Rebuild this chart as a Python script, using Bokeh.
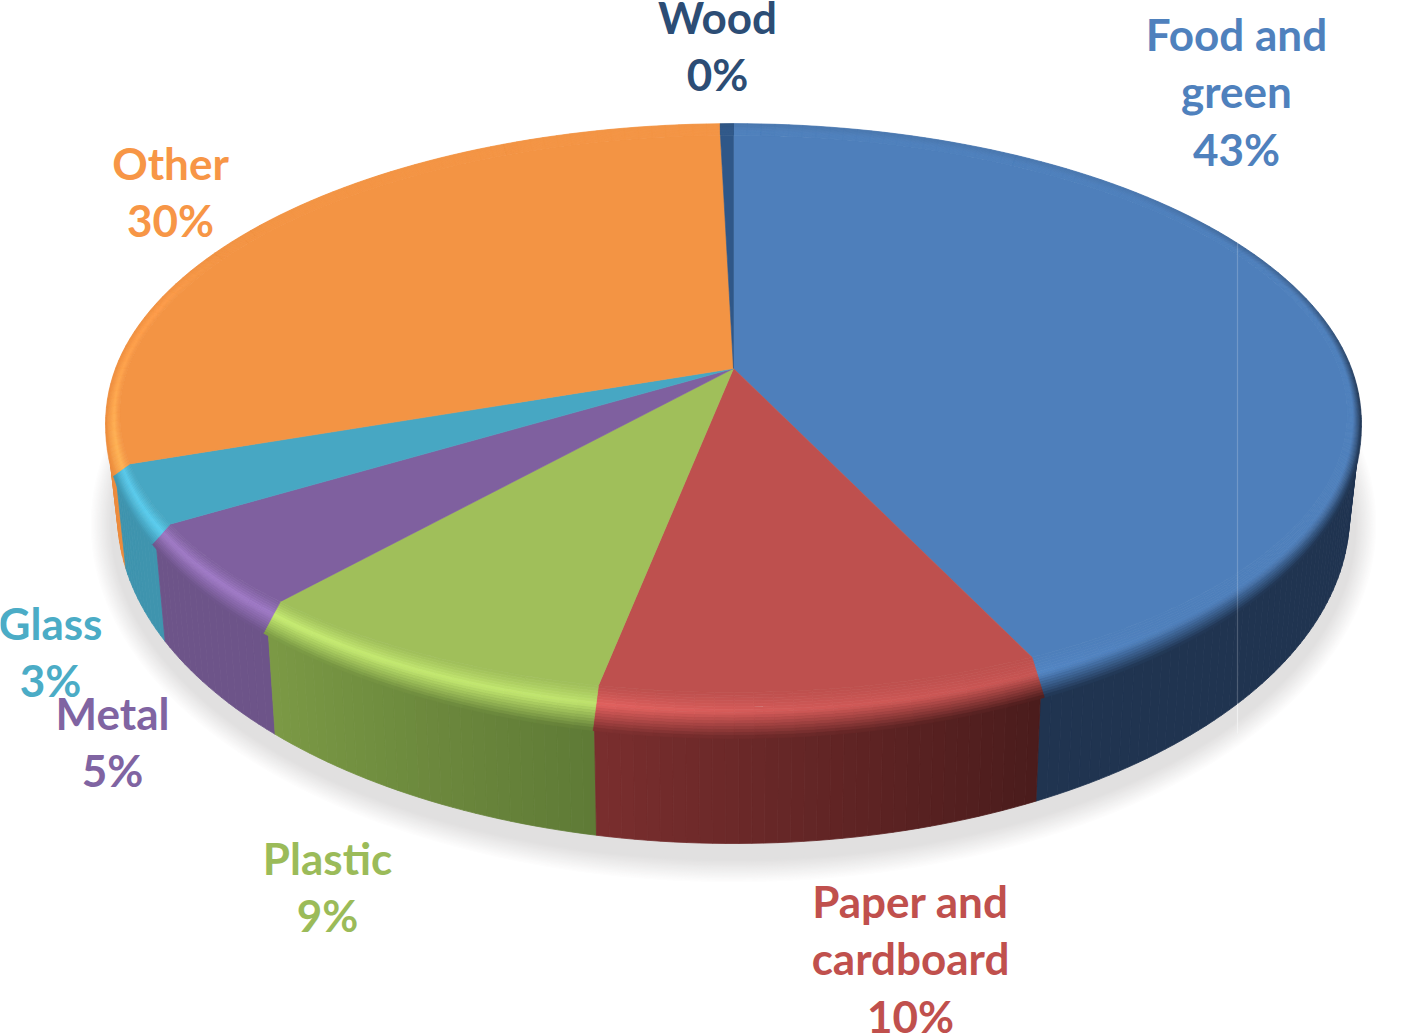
import numpy as np
from bokeh.plotting import figure
from bokeh.models import Range1d, ColumnDataSource
from bokeh.core.properties import value
from bokeh.embed import file_html
from bokeh.resources import INLINE

# ---- data ----
categories = ["Food and\ngreen", "Paper and\ncardboard", "Plastic", "Metal", "Glass", "Other", "Wood"]
label_percent = [43, 10, 9, 5, 3, 30, 0]
drawn_share = [43.1, 9.9, 8.4, 4.8, 3.4, 30.0, 0.4]

# ---- style ----
top_colors = ["#4E7FBB", "#BE504E", "#A0BF5A", "#7F609F", "#47A7C3", "#F39444", "#2F5788"]
wall_from = ["#203450", "#4A1C1C", "#5F7A36", "#6D5489", "#3F94AE", "#EC8C3D", "#203450"]  # clockwise start
wall_to = ["#203450", "#7A2E2E", "#7B9A45", "#6D5489", "#3F94AE", "#EC8C3D", "#203450"]    # clockwise end
label_colors = ["#4F81BD", "#C0504D", "#9BBB59", "#8064A2", "#4BACC6", "#F79646", "#2C4D75"]
label_x = [1236, 910, 327, 112, 50, 170, 717]
label_y = [33, 900, 857, 712, 622, 162, 16]
LINE = 57.5
FONT = "44px"

# ---- geometry of the view ----
CX, CY, RX, AY, K = 733.0, 368.0, 618.0, 287.0, 0.172
BOT_CY, BOT_A, BOT_B, BOT_XS = 514.0, 616.0, 329.0, 0.983


def project(X, Y):
    w = 1 + K * Y
    return CX + RX * X / w, CY - AY * Y / w


def hex2rgb(h):
    return np.array([int(h[i:i + 2], 16) for i in (1, 3, 5)], dtype=float)


def rgb2hex(c):
    c = np.clip(np.round(c), 0, 255).astype(int)
    return "#%02x%02x%02x" % tuple(c)


def mix(a, b, t):
    return a + (b - a) * t


def wall_bottom(xt):
    x = CX + BOT_XS * (xt - CX)
    u = np.clip((x - CX) / BOT_A, -1, 1)
    return x, BOT_CY + BOT_B * np.sqrt(1 - u ** 2)


p = figure(width=1406, height=1033, x_range=Range1d(0, 1406), y_range=Range1d(1033, 0),
           output_backend="svg", toolbar_location=None, min_border=0,
           background_fill_color="white", border_fill_color="white", outline_line_color=None)
p.axis.visible = False
p.grid.visible = False

# soft shadow under the pie, outermost first
shade_levels = np.linspace(0, 1, 24)
tt = np.linspace(0, 2 * np.pi, 240)
for s in shade_levels:
    col = rgb2hex(mix(np.array([255.0, 255, 255]), np.array([225.0, 224, 224]), min(s * 1.3, 1.0)))
    p.patch(CX + (BOT_A + 28 * (1 - s)) * np.cos(tt),
            BOT_CY + 10 + (BOT_B + 30 * (1 - s)) * np.sin(tt),
            fill_color=col, line_color=None)

# slice boundaries, clockwise from the top of the disc
shares = np.array(drawn_share, dtype=float)
edges = np.concatenate([[0], np.cumsum(shares)]) / shares.sum() * 360.0

# walls
wx, wy, wc, wo = [], [], [], []
STEP = 1.0
for i, (a0, a1) in enumerate(zip(edges[:-1], edges[1:])):
    n = max(int((a1 - a0) / STEP), 1)
    th = np.linspace(a0, a1, n + 1)
    for j in range(n):
        X0, Y0 = np.sin(np.radians(th[j])), np.cos(np.radians(th[j]))
        X1, Y1 = np.sin(np.radians(th[j + 1])), np.cos(np.radians(th[j + 1]))
        if min(Y0, Y1) > -K:
            continue
        x0, y0 = project(X0, Y0)
        x1, y1 = project(X1, Y1)
        bx0, by0 = wall_bottom(x0)
        bx1, by1 = wall_bottom(x1)
        t = (j + 0.5) / n
        c = rgb2hex(mix(hex2rgb(wall_from[i]), hex2rgb(wall_to[i]), t))
        wx.append([x0, x1, bx1, bx0])
        wy.append([y0, y1, by1, by0])
        wc.append(c)
        wo.append((Y0 + Y1) / 2)
order = np.argsort(np.array(wo))[::-1]
p.patches([wx[k] for k in order], [wy[k] for k in order],
          fill_color=[wc[k] for k in order], line_color=[wc[k] for k in order], line_width=0.8)

# flat top of every slice, out to where the rounded edge begins
INSET_X, INSET_Y, EXT_Y = 0.02, 0.055, 0.055
for i, (a0, a1) in enumerate(zip(edges[:-1], edges[1:])):
    th = np.radians(np.linspace(a0, a1, max(int(a1 - a0), 2) * 2 + 1))
    X = np.sin(th) * (1 - INSET_X)
    Y = np.cos(th) * (1 - INSET_Y)
    xs, ys = project(X, Y)
    p.patch(np.r_[CX, xs], np.r_[CY, ys], fill_color=top_colors[i], line_color=top_colors[i], line_width=0.6)


def band_point(t, r):
    Yc = np.cos(t)
    out = 1.0 + (EXT_Y if Yc < 0 else 0.0) * min(1.0, -Yc / 0.3 if Yc < 0 else 0.0)
    sy = mix(1 - INSET_Y, out, r)
    sx = mix(1 - INSET_X, 1.0, r)
    return project(np.sin(t) * sx, Yc * sy)


# rounded edge: thin strips whose colour goes flat -> highlight -> wall
light_th = [0, 140, 175, 195, 230, 255, 272, 295, 360]
light_v = [0, 0, 0.22, 0.42, 0.5, 0.4, 0.18, 0, 0]
RINGS = np.linspace(0, 1, 17)
bx, by, bc = [], [], []
for i, (a0, a1) in enumerate(zip(edges[:-1], edges[1:])):
    n = max(int((a1 - a0) / 1.5), 1)
    th = np.linspace(a0, a1, n + 1)
    base = hex2rgb(top_colors[i])
    for j in range(n):
        t0, t1 = np.radians(th[j]), np.radians(th[j + 1])
        md = (th[j] + th[j + 1]) / 2
        h = np.interp(md, light_th, light_v)
        Ym = np.cos(np.radians(md))
        wall_col = mix(hex2rgb(wall_from[i]), hex2rgb(wall_to[i]), (j + 0.5) / n)
        back = np.interp(Ym, [-0.5, -0.1, 0.25, 0.7], [1.0, 0.95, 0.45, 0.12])
        end = mix(base, wall_col, back)
        hi = np.minimum(base * (1 + 0.45 * h) + 8 * h, 255)
        for r0, r1 in zip(RINGS[:-1], RINGS[1:]):
            q = (r0 + r1) / 2
            if q < 0.42:
                c = mix(base, hi, (q / 0.42) ** 1.3)
            else:
                c = mix(hi, end, ((q - 0.42) / 0.58) ** 1.1)
            xa, ya = band_point(t0, r0)
            xb, yb = band_point(t1, r0)
            xc, yc = band_point(t1, r1)
            xd, yd = band_point(t0, r1)
            bx.append([xa, xb, xc, xd])
            by.append([ya, yb, yc, yd])
            bc.append(rgb2hex(c))
p.patches(bx, by, fill_color=bc, line_color=bc, line_width=0.7)

# the pale seam that runs down the right of the disc
seam_dx = 504.0
ang = np.radians(np.linspace(0, 180, 721))
rim_x, rim_y = project(np.sin(ang), np.cos(ang))
k_top = np.argmin(np.abs(rim_x[:360] - (CX + seam_dx)))
seam_x = CX + seam_dx
_, seam_bot = wall_bottom(CX + seam_dx / BOT_XS)
p.line([seam_x, seam_x], [rim_y[k_top], seam_bot], line_color="white", line_alpha=0.2, line_width=1.2)
p.line([seam_x, seam_x], [seam_bot, seam_bot + 30], line_color="#f4f4f4", line_alpha=0.8, line_width=1.2)

# labels
tx, ty, ts, tc = [], [], [], []
for name, pct, col, lx, ly in zip(categories, label_percent, label_colors, label_x, label_y):
    lines = name.split("\n") + [f"{pct}%"]
    for n, line in enumerate(lines):
        tx.append(lx)
        ty.append(ly + n * LINE)
        ts.append(line)
        tc.append(col)
src = ColumnDataSource(dict(x=tx, y=ty, text=ts, color=tc))
p.text("x", "y", text="text", source=src, text_color="color", text_align="center",
       text_baseline="alphabetic", text_font=value("Lato"), text_font_style="bold",
       text_font_size=value(FONT))

open("out.html", "w").write(file_html(p, INLINE))
